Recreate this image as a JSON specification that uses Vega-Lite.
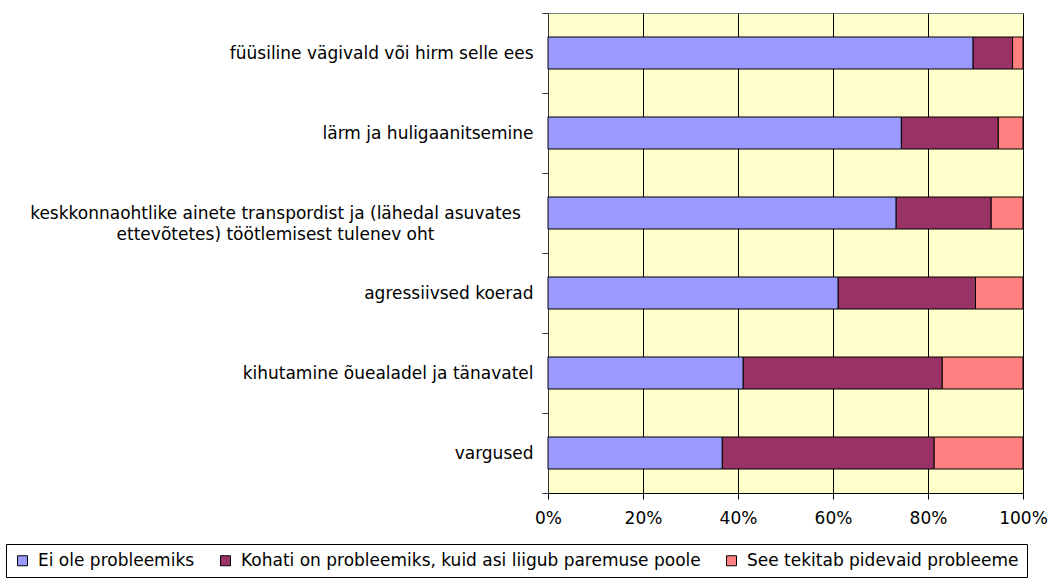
{
  "$schema": "https://vega.github.io/schema/vega-lite/v6.json",
  "autosize": {"type": "none"},
  "width": 475,
  "height": 480,
  "padding": {"left": 548, "top": 13, "right": 26, "bottom": 85},
  "background": "white",
  "config": {
    "font": "DejaVu Sans",
    "view": {"fill": "#FFFFCC", "stroke": "#808080", "strokeWidth": 1}
  },
  "data": {
    "values": [
      {"kategooria": "füüsiline vägivald või hirm selle ees", "hinnang": "Ei ole probleemiks", "osa": 89.5},
      {"kategooria": "füüsiline vägivald või hirm selle ees", "hinnang": "Kohati on probleemiks, kuid asi liigub paremuse poole", "osa": 8.3},
      {"kategooria": "füüsiline vägivald või hirm selle ees", "hinnang": "See tekitab pidevaid probleeme", "osa": 2.2},
      {"kategooria": "lärm ja huligaanitsemine", "hinnang": "Ei ole probleemiks", "osa": 74.4},
      {"kategooria": "lärm ja huligaanitsemine", "hinnang": "Kohati on probleemiks, kuid asi liigub paremuse poole", "osa": 20.4},
      {"kategooria": "lärm ja huligaanitsemine", "hinnang": "See tekitab pidevaid probleeme", "osa": 5.2},
      {"kategooria": "keskkonnaohtlike ainete transpordist ja (lähedal asuvates ettevõtetes) töötlemisest tulenev oht", "hinnang": "Ei ole probleemiks", "osa": 73.3},
      {"kategooria": "keskkonnaohtlike ainete transpordist ja (lähedal asuvates ettevõtetes) töötlemisest tulenev oht", "hinnang": "Kohati on probleemiks, kuid asi liigub paremuse poole", "osa": 20.0},
      {"kategooria": "keskkonnaohtlike ainete transpordist ja (lähedal asuvates ettevõtetes) töötlemisest tulenev oht", "hinnang": "See tekitab pidevaid probleeme", "osa": 6.7},
      {"kategooria": "agressiivsed koerad", "hinnang": "Ei ole probleemiks", "osa": 61.1},
      {"kategooria": "agressiivsed koerad", "hinnang": "Kohati on probleemiks, kuid asi liigub paremuse poole", "osa": 28.9},
      {"kategooria": "agressiivsed koerad", "hinnang": "See tekitab pidevaid probleeme", "osa": 10.0},
      {"kategooria": "kihutamine õuealadel ja tänavatel", "hinnang": "Ei ole probleemiks", "osa": 41.1},
      {"kategooria": "kihutamine õuealadel ja tänavatel", "hinnang": "Kohati on probleemiks, kuid asi liigub paremuse poole", "osa": 41.9},
      {"kategooria": "kihutamine õuealadel ja tänavatel", "hinnang": "See tekitab pidevaid probleeme", "osa": 17.0},
      {"kategooria": "vargused", "hinnang": "Ei ole probleemiks", "osa": 36.7},
      {"kategooria": "vargused", "hinnang": "Kohati on probleemiks, kuid asi liigub paremuse poole", "osa": 44.6},
      {"kategooria": "vargused", "hinnang": "See tekitab pidevaid probleeme", "osa": 18.7}
    ]
  },
  "mark": {"type": "bar", "size": 32, "stroke": "#000000", "strokeWidth": 1},
  "encoding": {
    "y": {
      "field": "kategooria",
      "type": "nominal",
      "sort": null,
      "title": null,
      "scale": {"paddingInner": 0, "paddingOuter": 0},
      "axis": {
        "tickBand": "extent",
        "tickSize": 6,
        "tickColor": "#333333",
        "domainColor": "#333333",
        "labelFontSize": 17,
        "labelColor": "#000000",
        "labelLimit": 0,
        "labelLineHeight": 21,
        "labelAlign": {"condition": {"test": "datum.value === 'keskkonnaohtlike ainete transpordist ja (lähedal asuvates ettevõtetes) töötlemisest tulenev oht'", "value": "center"}, "value": "right"},
        "labelPadding": {"condition": {"test": "datum.value === 'keskkonnaohtlike ainete transpordist ja (lähedal asuvates ettevõtetes) töötlemisest tulenev oht'", "value": 267}, "value": 9},
        "labelExpr": "datum.label === 'keskkonnaohtlike ainete transpordist ja (lähedal asuvates ettevõtetes) töötlemisest tulenev oht' ? ['keskkonnaohtlike ainete transpordist ja (lähedal asuvates', 'ettevõtetes) töötlemisest tulenev oht'] : datum.label"
      }
    },
    "x": {
      "field": "osa",
      "type": "quantitative",
      "stack": "normalize",
      "title": null,
      "axis": {
        "format": ".0%",
        "values": [0, 0.2, 0.4, 0.6, 0.8, 1],
        "tickSize": 6,
        "tickColor": "#000000",
        "domainColor": "#000000",
        "grid": true,
        "gridColor": "#000000",
        "labelFontSize": 17,
        "labelColor": "#000000",
        "labelPadding": 11,
        "labelFlush": false
      }
    },
    "color": {
      "field": "hinnang",
      "type": "nominal",
      "scale": {
        "domain": ["Ei ole probleemiks", "Kohati on probleemiks, kuid asi liigub paremuse poole", "See tekitab pidevaid probleeme"],
        "range": ["#9999FF", "#993366", "#FF8080"]
      },
      "legend": {
        "title": null,
        "orient": "none",
        "direction": "horizontal",
        "legendX": -542,
        "legendY": 531,
        "strokeColor": "#000000",
        "padding": 8,
        "symbolType": "square",
        "symbolSize": 100,
        "symbolStrokeColor": "#000000",
        "symbolStrokeWidth": 1,
        "labelFontSize": 17,
        "labelColor": "#000000",
        "labelOffset": 7,
        "labelLimit": 0,
        "columnPadding": 22
      }
    }
  }
}
